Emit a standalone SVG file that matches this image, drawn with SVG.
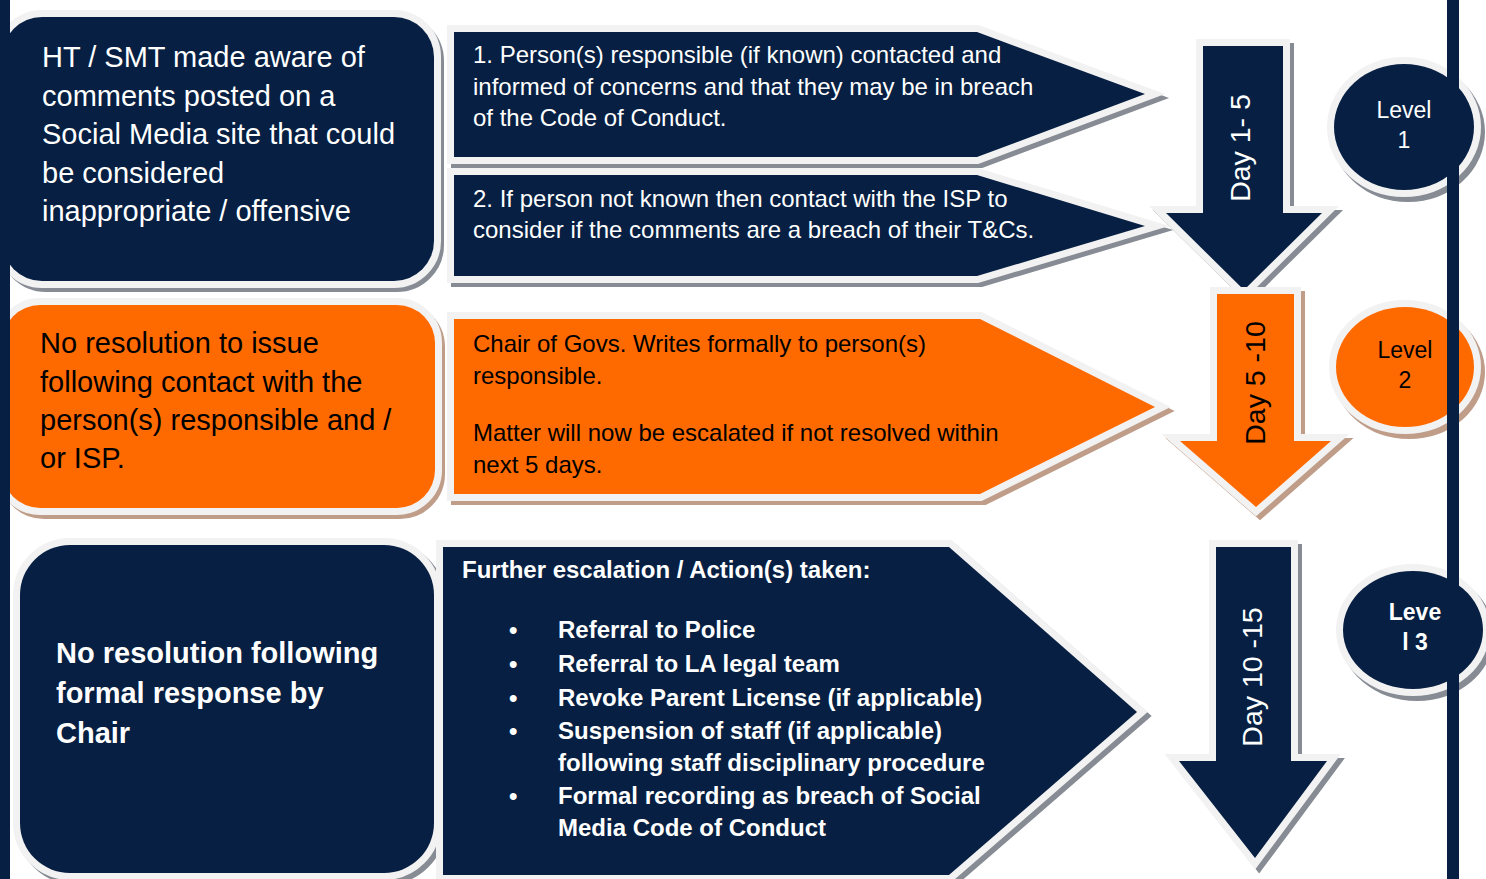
<svg xmlns="http://www.w3.org/2000/svg" width="1486" height="879" viewBox="0 0 1486 879">
<style>
  .navy{fill:#061f42;}
  .orange{fill:#ff6a00;}
  .frame{stroke:#f2f2f2;stroke-width:14;stroke-linejoin:miter;stroke-miterlimit:6;paint-order:stroke;}
  .shg{fill:#868b94;stroke:#868b94;stroke-width:14;stroke-linejoin:miter;stroke-miterlimit:6;}
  .sho{fill:#bf9d89;stroke:#bf9d89;stroke-width:14;stroke-linejoin:miter;stroke-miterlimit:6;}
  text{font-family:"Liberation Sans",Arial,sans-serif;}
  .w{fill:#ffffff;}
  .k{fill:#000000;}
  .big{font-size:29px;}
  .mid{font-size:24px;}
  .day{font-size:28.5px;text-anchor:middle;}
  .lvl{font-size:23px;text-anchor:middle;}
  .b{font-weight:bold;}
</style>
<rect width="1486" height="879" fill="#ffffff"/>

<g id="connectors"></g>

<!-- Box 1 -->
<g id="box-ht-smt">
  <rect class="shg" x="6" y="21" width="431" height="264" rx="40"/>
  <rect class="navy frame" x="2" y="17" width="432" height="264" rx="40"/>
  <text class="w big"><tspan x="42" y="67">HT / SMT made aware of</tspan><tspan x="42" y="106">comments posted on a</tspan><tspan x="42" y="144">Social Media site that could</tspan><tspan x="42" y="183">be considered</tspan><tspan x="42" y="221">inappropriate / offensive</tspan></text>
</g>

<!-- Box 2 -->
<g id="box-no-resolution">
  <rect class="sho" x="6" y="309" width="432" height="203" rx="38"/>
  <rect class="orange frame" x="2" y="305" width="433" height="203" rx="38"/>
  <text class="k big"><tspan x="40" y="353">No resolution to issue</tspan><tspan x="40" y="392">following contact with the</tspan><tspan x="40" y="430">person(s) responsible and /</tspan><tspan x="40" y="468">or ISP.</tspan></text>
</g>

<!-- Box 3 -->
<g id="box-no-resolution-chair">
  <rect class="shg" x="24" y="549" width="414" height="328" rx="50"/>
  <rect class="navy frame" x="20" y="545" width="414" height="328" rx="50"/>
  <text class="w big b"><tspan x="56" y="663">No resolution following</tspan><tspan x="56" y="703">formal response by</tspan><tspan x="56" y="743">Chair</tspan></text>
</g>

<!-- Arrow 1 -->
<g id="step-1">
  <polygon class="shg" points="458,36 981,36 1149,98 981,161 458,161"/>
  <polygon class="navy frame" points="454,32 977,32 1145,94 977,157 454,157"/>
  <text class="w mid"><tspan x="473" y="63">1. Person(s) responsible (if known) contacted and</tspan><tspan x="473" y="95">informed of concerns and that they may be in breach</tspan><tspan x="473" y="126">of the Code of Conduct.</tspan></text>
</g>

<!-- Arrow 2 -->
<g id="step-2">
  <polygon class="shg" points="458,179 981,179 1149,230 981,280 458,280"/>
  <polygon class="navy frame" points="454,175 977,175 1145,226 977,276 454,276"/>
  <text class="w mid"><tspan x="473" y="207">2. If person not known then contact with the ISP to</tspan><tspan x="473" y="238">consider if the comments are a breach of their T&amp;Cs.</tspan></text>
</g>

<!-- Arrow 3 -->
<g id="step-chair">
  <polygon class="sho" points="458,323 984,323 1159,411 984,498 458,498"/>
  <polygon class="orange frame" points="454,319 980,319 1155,407 980,494 454,494"/>
  <text class="k mid"><tspan x="473" y="352">Chair of Govs. Writes formally to person(s)</tspan><tspan x="473" y="384">responsible.</tspan><tspan x="473" y="441">Matter will now be escalated if not resolved within</tspan><tspan x="473" y="473">next 5 days.</tspan></text>
</g>

<!-- Arrow 4 -->
<g id="step-escalation">
  <polygon class="shg" points="447,551 953,551 1141,716 953,879 447,879"/>
  <polygon class="navy frame" points="443,547 949,547 1137,712 949,875 443,875"/>
  <text class="w mid b" x="462" y="578">Further escalation / Action(s) taken:</text>
  <g class="w mid b">
    <text x="509" y="638">•</text><text x="558" y="638">Referral to Police</text>
    <text x="509" y="672">•</text><text x="558" y="672">Referral to LA legal team</text>
    <text x="509" y="706">•</text><text x="558" y="706">Revoke Parent License (if applicable)</text>
    <text x="509" y="739">•</text><text x="558" y="739">Suspension of staff (if applicable)</text>
    <text x="558" y="771">following staff disciplinary procedure</text>
    <text x="509" y="804">•</text><text x="558" y="804">Formal recording as breach of Social</text>
    <text x="558" y="836">Media Code of Conduct</text>
  </g>
</g>

<!-- Day arrows -->
<g id="day-1-5">
  <polygon class="shg" points="1207,50 1287,50 1287,217 1326,217 1248,294 1170,217 1207,217"/>
  <polygon class="navy frame" points="1203,46 1283,46 1283,213 1322,213 1244,290 1166,213 1203,213"/>
  <text class="w day" transform="translate(1250,148) rotate(-90)">Day 1- 5</text>
</g>

<g id="day-5-10">
  <polygon class="sho" points="1221,298 1298,298 1298,445 1335,445 1260,511 1184,445 1221,445"/>
  <polygon class="orange frame" points="1217,294 1294,294 1294,441 1331,441 1256,507 1180,441 1217,441"/>
  <text class="k day" transform="translate(1265,383) rotate(-90)">Day 5 -10</text>
</g>

<g id="day-10-15">
  <polygon class="shg" points="1220,551 1295,551 1295,765 1331,765 1259,862 1183,765 1220,765"/>
  <polygon class="navy frame" points="1216,547 1291,547 1291,761 1327,761 1255,858 1179,761 1216,761"/>
  <text class="w day" transform="translate(1262,677) rotate(-90)">Day 10 -15</text>
</g>

<!-- Levels -->
<g id="level-1">
  <ellipse class="shg" cx="1408" cy="132" rx="70" ry="63"/>
  <ellipse class="navy frame" cx="1404" cy="127" rx="70" ry="63"/>
  <text class="w lvl"><tspan x="1404" y="118">Level</tspan><tspan x="1404" y="148">1</tspan></text>
</g>

<g id="level-2">
  <ellipse class="sho" cx="1409" cy="372" rx="69" ry="60"/>
  <ellipse class="orange frame" cx="1405" cy="367" rx="69" ry="60"/>
  <text class="k lvl"><tspan x="1405" y="358">Level</tspan><tspan x="1405" y="388">2</tspan></text>
</g>

<g id="level-3">
  <ellipse class="shg" cx="1417" cy="635" rx="70" ry="59"/>
  <ellipse class="navy frame" cx="1413" cy="630" rx="70" ry="59"/>
  <text class="w lvl b"><tspan x="1415" y="620">Leve</tspan><tspan x="1415" y="650">l 3</tspan></text>
</g>

<!-- Edge bars -->
<rect class="navy" x="0" y="0" width="10" height="879"/>
<rect class="navy" x="1447" y="0" width="12" height="879"/>
</svg>
